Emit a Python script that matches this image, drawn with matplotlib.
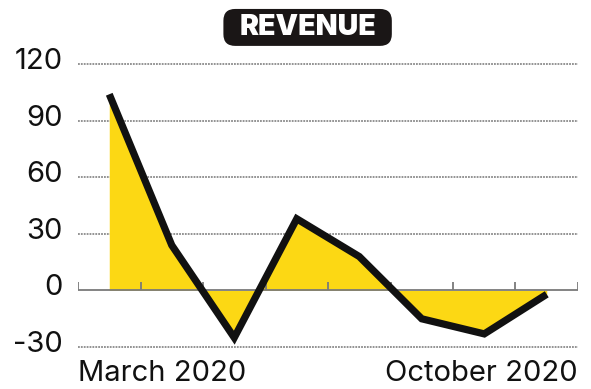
import numpy as np
import matplotlib
matplotlib.use('Agg')
import matplotlib.pyplot as plt
import matplotlib.transforms as mtrans
from matplotlib.patches import FancyBboxPatch

# monthly revenue change, March .. October 2020
months = ['March 2020', 'April 2020', 'May 2020', 'June 2020',
          'July 2020', 'August 2020', 'September 2020', 'October 2020']
revenue = [104, 24, -25, 38, 18, -15, -23, -2]
yticks = [-30, 0, 30, 60, 90, 120]
title = 'REVENUE'

plt.rcParams['font.family'] = ['Inter', 'DejaVu Sans']

fig = plt.figure(figsize=(5.91, 3.89), dpi=100)
ax = fig.add_axes([0.132, 0.098, 0.846, 0.747])

x = np.arange(len(months))
y = np.array(revenue)

ax.fill_between(x, y, 0, color='#fcd814', lw=0, interpolate=True, zorder=2)
ax.plot(x, y, color='#111111', lw=5.2, solid_joinstyle='miter',
        solid_capstyle='butt', zorder=4)

# dotted grid, solid zero line
for t in yticks:
    if t == 0:
        continue
    ax.axhline(t, color='#8a8a8a', lw=1.3, ls=(0, (1, 0.6)), zorder=1)
ax.axhline(0, color='#7a7a7a', lw=1.3, zorder=3)

# small month separators sitting on the zero line
edges = np.arange(len(months) + 1) - 0.5
ax.vlines(edges, 0, 4.5, color='#7a7a7a', lw=1.3, zorder=3)

ax.set_xlim(-0.5, len(months) - 0.5)
ax.set_ylim(-32, 122)
ax.set_yticks(yticks)
ax.set_yticklabels([str(t) for t in yticks], fontsize=21, color='#111111')
ax.tick_params(axis='y', length=0, pad=11)
# labels sit a little above their grid line
lift = mtrans.ScaledTranslation(0, 4 / 72, fig.dpi_scale_trans)
for lab in ax.get_yticklabels():
    lab.set_transform(lab.get_transform() + lift)
ax.set_xticks([])
for s in ax.spines.values():
    s.set_visible(False)

trans = mtrans.blended_transform_factory(ax.transData, ax.transAxes)
ax.text(-0.5, -0.03, months[0], transform=trans, ha='left', va='top',
        fontsize=21, color='#111111')
ax.text(len(months) - 0.5, -0.03, months[-1], transform=trans, ha='right',
        va='top', fontsize=21, color='#111111')

# title badge
box = FancyBboxPatch((0.378, 0.882), 0.285, 0.095,
                     boxstyle='round,pad=0,rounding_size=0.02',
                     transform=fig.transFigure, facecolor='#1a1616',
                     edgecolor='none', mutation_aspect=1.5)
fig.patches.append(box)
fig.text(0.5205, 0.929, title, ha='center', va='center', fontsize=20.5,
         fontweight='black', color='white')

fig.savefig('out.png', dpi=100)
